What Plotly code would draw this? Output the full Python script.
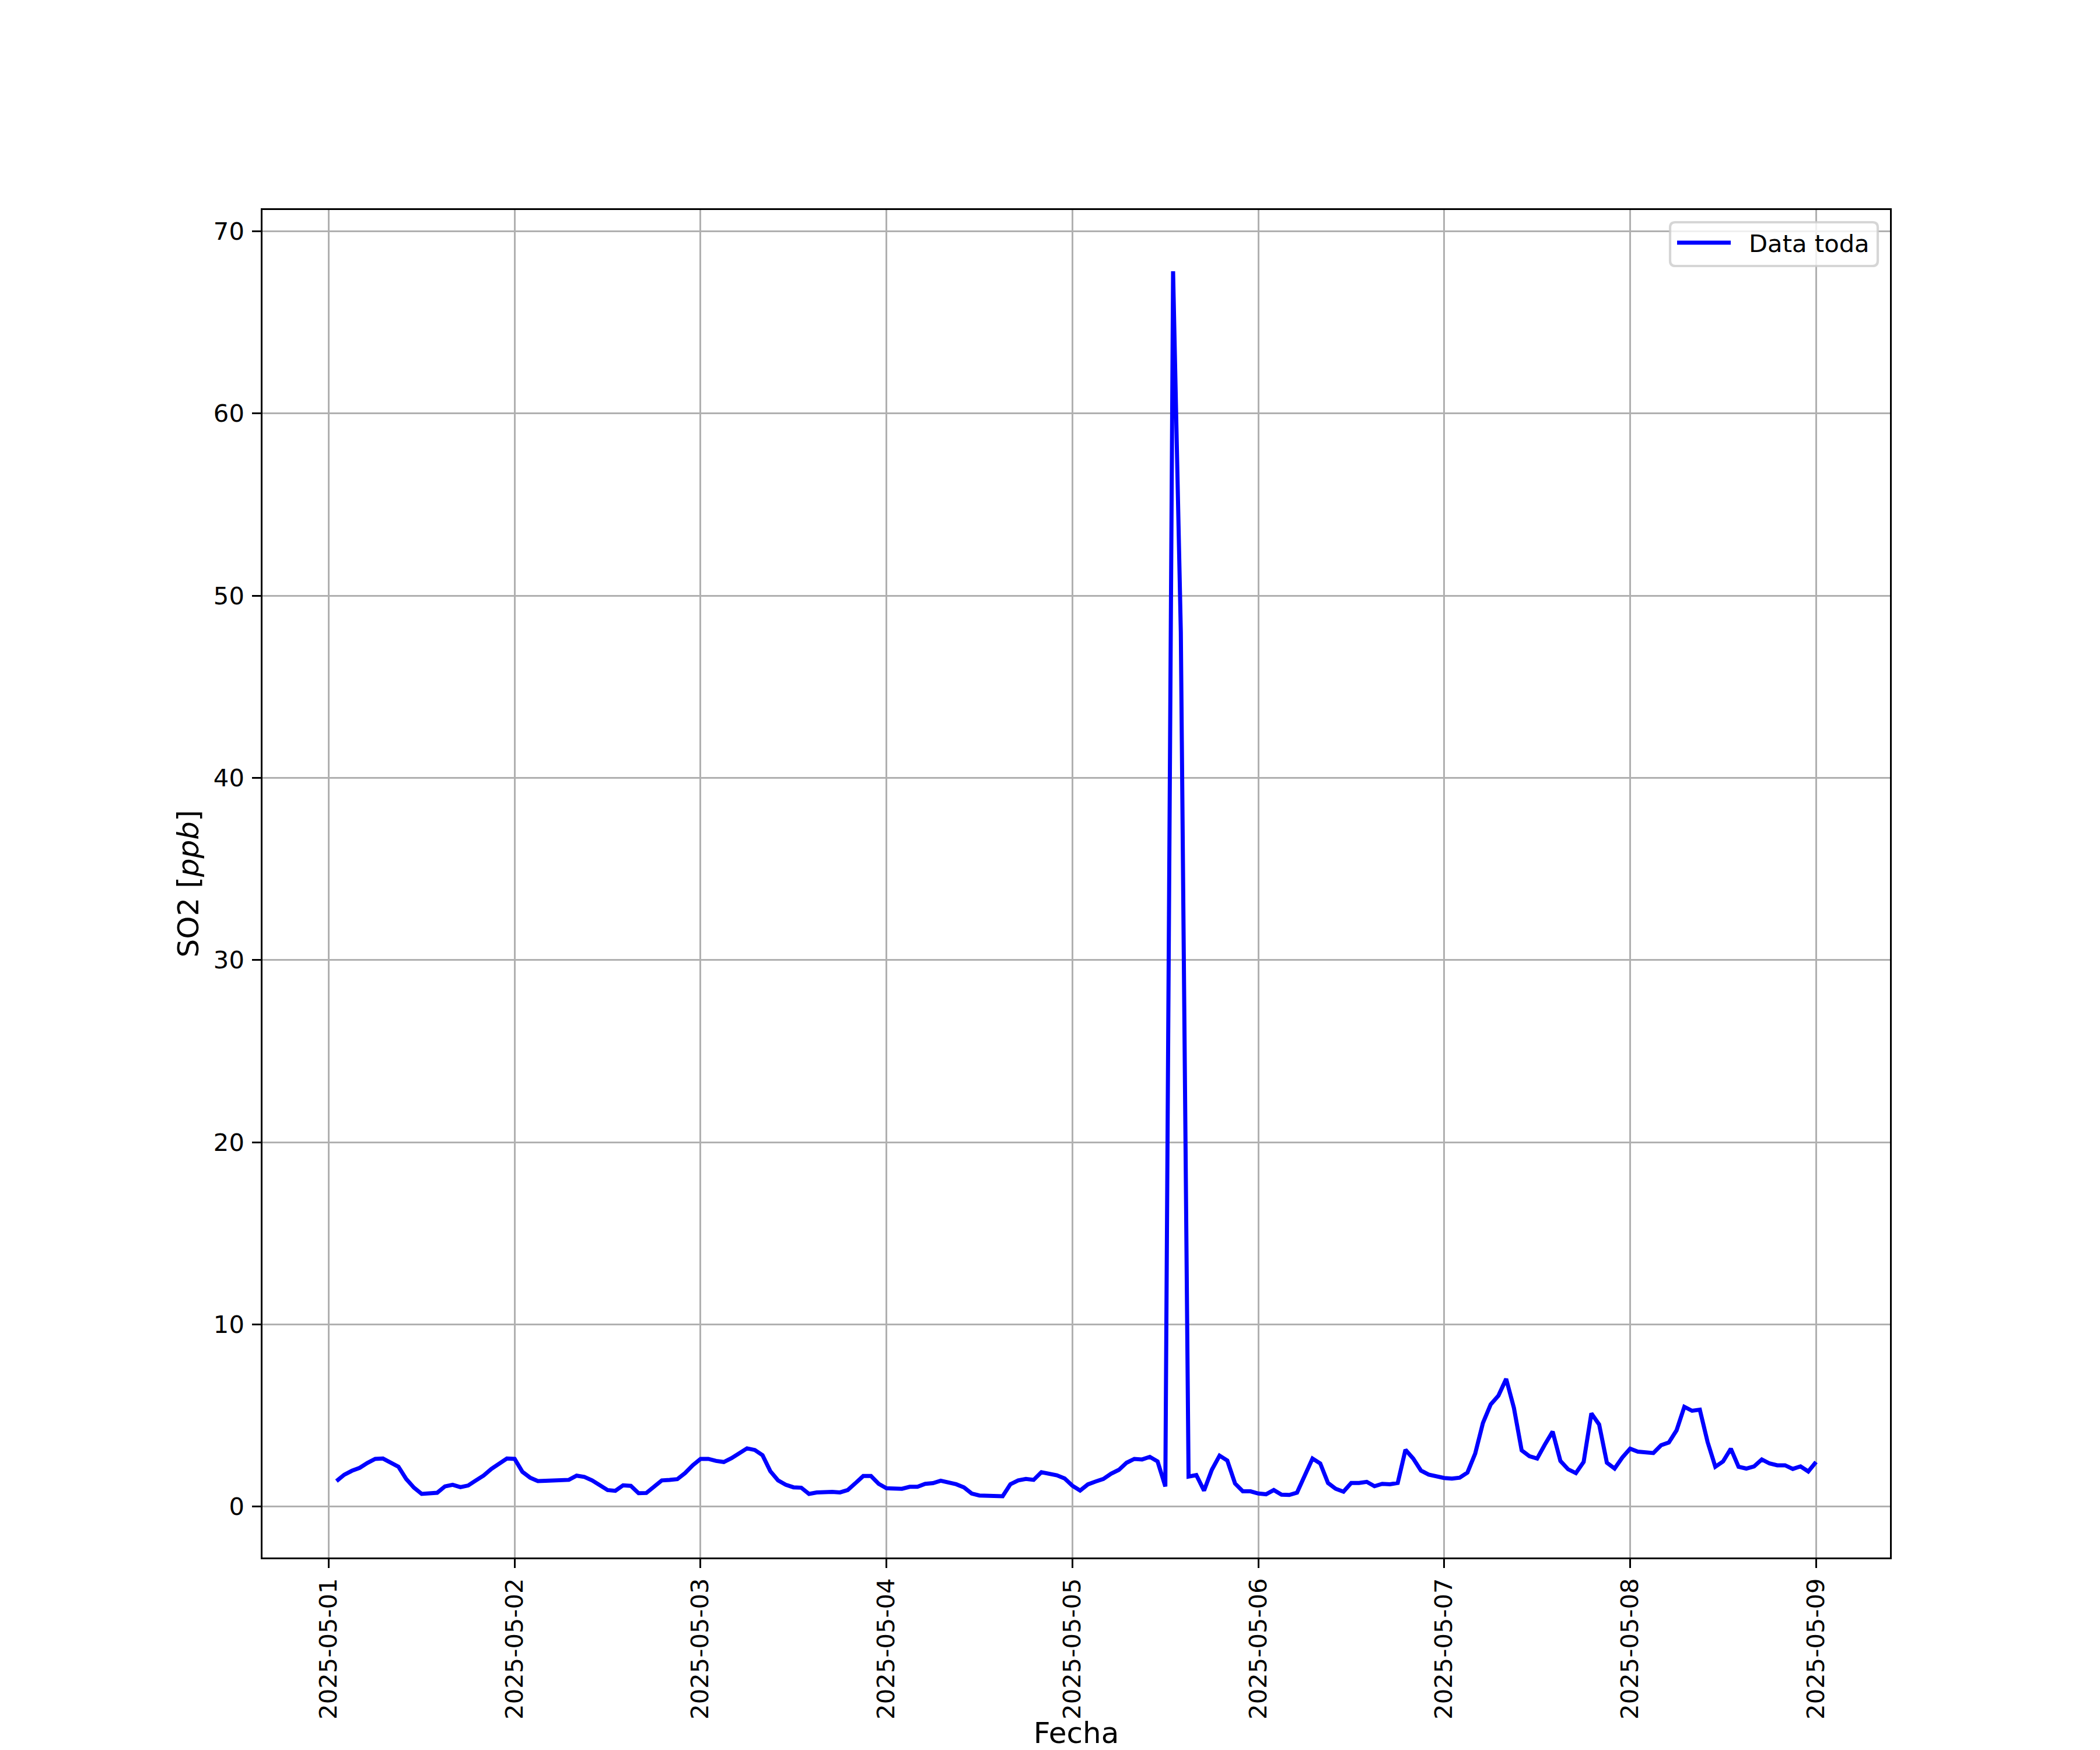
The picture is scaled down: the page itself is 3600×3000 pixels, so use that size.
import pandas as pd
import plotly.graph_objects as go

# ---------------- data (hourly SO2, ppb) ----------------
start_time = "2025-05-01 01:00"
so2 = [
    1.40, 1.75, 1.97, 2.13, 2.40, 2.62, 2.64, 2.43, 2.19, 1.52, 1.04, 0.70,
    0.74, 0.76, 1.11, 1.20, 1.07, 1.16, 1.44, 1.71, 2.07, 2.33, 2.64, 2.62,
    1.91, 1.59, 1.40, 1.42, 1.44, 1.47, 1.47, 1.70, 1.63, 1.44, 1.17, 0.91,
    0.87, 1.17, 1.14, 0.74, 0.75, 1.09, 1.44, 1.47, 1.51, 1.84, 2.27, 2.62,
    2.62, 2.51, 2.45, 2.66, 2.91, 3.20, 3.11, 2.82, 1.95, 1.44, 1.20, 1.06,
    1.04, 0.70, 0.78, 0.80, 0.81, 0.78, 0.91, 1.29, 1.68, 1.68, 1.25, 1.01,
    0.98, 0.98, 1.09, 1.09, 1.25, 1.29, 1.42, 1.33, 1.23, 1.06, 0.72, 0.61,
    0.59, 0.59, 0.57, 1.23, 1.44, 1.52, 1.47, 1.89, 1.79, 1.72, 1.55, 1.15,
    0.88, 1.22, 1.38, 1.52, 1.81, 2.02, 2.41, 2.62, 2.59, 2.73, 2.48, 1.11,
    67.8, 48.0, 1.65, 1.73, 0.88, 2.02, 2.80, 2.53, 1.27, 0.84, 0.84, 0.72,
    0.68, 0.91, 0.66, 0.64, 0.77, 1.68, 2.64, 2.37, 1.30, 0.98, 0.82, 1.30,
    1.30, 1.36, 1.12, 1.25, 1.23, 1.30, 3.12, 2.64, 1.98, 1.76, 1.65, 1.57,
    1.54, 1.59, 1.87, 2.91, 4.59, 5.61, 6.09, 7.01, 5.42, 3.09, 2.77, 2.64,
    3.41, 4.12, 2.51, 2.05, 1.84, 2.45, 5.12, 4.51, 2.41, 2.09, 2.70, 3.18,
    3.02, 2.98, 2.94, 3.37, 3.52, 4.19, 5.48, 5.26, 5.32, 3.55, 2.19, 2.48,
    3.18, 2.19, 2.09, 2.21, 2.59, 2.37, 2.27, 2.27, 2.07, 2.21, 1.93, 2.45,
]
tick_dates = ["2025-05-01", "2025-05-02", "2025-05-03", "2025-05-04", "2025-05-05",
              "2025-05-06", "2025-05-07", "2025-05-08", "2025-05-09"]
y_ticks = [0, 10, 20, 30, 40, 50, 60, 70]
series_name = "Data toda"
x_label = "Fecha"
y_label = "SO2 [<i>ppb</i>]"

fechas = pd.date_range(start_time, periods=len(so2), freq="h")

# ---------------- layout geometry ----------------
W, H = 3600, 3000
L, R, T, B = 450, 360, 360, 330
PW, PH = W - L - R, H - T - B
FONT = "DejaVu Sans"
TICK_PX = 41.7
LABEL_PX = 50
LW = 3.3
LINE_W = 7

def px_x(px):
    return (px - L) / PW

def px_y(py):
    return (H - B - py) / PH

# matplotlib-like 5% margins
xmin, xmax = fechas[0], fechas[-1]
xs = xmax - xmin
x_range = [str(xmin - 0.05 * xs), str(xmax + 0.05 * xs)]
ymin, ymax = min(so2), max(so2)
ys = ymax - ymin
y_range = [ymin - 0.05 * ys, ymax + 0.05 * ys]

fig = go.Figure()
fig.add_trace(go.Scatter(
    x=fechas, y=so2, mode="lines", name=series_name,
    line=dict(color="#0000ff", width=LINE_W), showlegend=False,
))

axis_common = dict(
    showline=True, linecolor="black", linewidth=LW, mirror=True,
    showgrid=True, gridcolor="#b0b0b0", gridwidth=LW, zeroline=False,
    ticks="outside", ticklen=14.6, tickwidth=LW, tickcolor="black",
    tickfont=dict(family=FONT, size=TICK_PX, color="black"),
)

fig.update_xaxes(
    **axis_common,
    type="date", range=x_range,
    tickmode="array", tickvals=tick_dates, ticktext=tick_dates,
    tickangle=-90, ticklabelstandoff=1,
    title=dict(text=x_label, font=dict(family=FONT, size=LABEL_PX, color="black"), standoff=33),
)
fig.update_yaxes(
    **axis_common,
    range=y_range, tickmode="array", tickvals=y_ticks,
    ticktext=[str(v) for v in y_ticks], ticklabelstandoff=5,
    title=dict(text=y_label, font=dict(family=FONT, size=LABEL_PX, color="black"), standoff=10),
)

# ---------------- legend (matplotlib style) ----------------
bx0, by0, bx1, by1, rad = 2863, 381, 3219, 456, 9
path = (
    f"M {px_x(bx0 + rad)} {px_y(by0)} L {px_x(bx1 - rad)} {px_y(by0)} "
    f"Q {px_x(bx1)} {px_y(by0)} {px_x(bx1)} {px_y(by0 + rad)} "
    f"L {px_x(bx1)} {px_y(by1 - rad)} "
    f"Q {px_x(bx1)} {px_y(by1)} {px_x(bx1 - rad)} {px_y(by1)} "
    f"L {px_x(bx0 + rad)} {px_y(by1)} "
    f"Q {px_x(bx0)} {px_y(by1)} {px_x(bx0)} {px_y(by1 - rad)} "
    f"L {px_x(bx0)} {px_y(by0 + rad)} "
    f"Q {px_x(bx0)} {px_y(by0)} {px_x(bx0 + rad)} {px_y(by0)} Z"
)
fig.add_shape(type="path", path=path, xref="paper", yref="paper",
              fillcolor="rgba(255,255,255,0.8)", line=dict(color="rgba(204,204,204,0.8)", width=4.2))
fig.add_shape(type="line", xref="paper", yref="paper",
              x0=px_x(2875), x1=px_x(2967), y0=px_y(416), y1=px_y(416),
              line=dict(color="#0000ff", width=LINE_W))
fig.add_annotation(x=px_x(2996), y=px_y(418), xref="paper", yref="paper",
                   xanchor="left", yanchor="middle", showarrow=False,
                   text=series_name, font=dict(family=FONT, size=TICK_PX, color="black"))

fig.update_layout(
    width=W, height=H,
    margin=dict(l=L, r=R, t=T, b=B, autoexpand=False),
    paper_bgcolor="white", plot_bgcolor="white",
    font=dict(family=FONT, color="black"),
    showlegend=False,
)

fig.write_html(
    "out.html",
    config={"displayModeBar": False},
    post_script="document.body.style.margin='0px';document.body.style.padding='0px';",
)
